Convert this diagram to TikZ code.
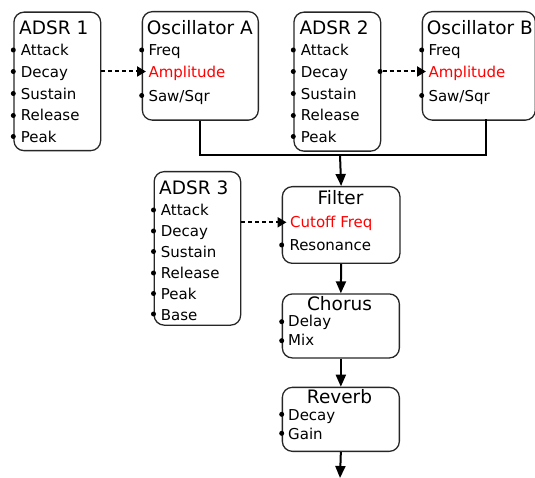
\documentclass[tikz,border=0pt]{standalone}
\usepackage{fontspec}
\setmainfont{DejaVu Sans}
\usetikzlibrary{arrows.meta}
\tikzset{
 box/.style={draw=black!85, line width=1.3pt, rounded corners=10pt, anchor=north west, inner sep=0pt},
 ttl/.style={font=\fontsize{18.5}{20}\selectfont, inner sep=0pt, anchor=base west},
 ttlc/.style={font=\fontsize{18.5}{20}\selectfont, inner sep=0pt, anchor=base},
 item/.style={font=\fontsize{15}{18}\selectfont, inner sep=0pt, anchor=base west},
 hot/.style={item, text=red},
 dot/.style={circle, fill=black, inner sep=0pt, minimum size=5pt},
 flow/.style={line width=2pt, -{Triangle[length=12pt,width=10pt]}},
 mod/.style={line width=2pt, dash pattern=on 4pt off 3pt, -{Triangle[length=9pt,width=10pt]}},
 bus/.style={line width=2pt},
}
\begin{document}
\begin{tikzpicture}[x=1pt,y=-1pt]
\useasboundingbox (0,0) rectangle (535,478);
% boxes
\node[box, minimum width=86.7pt, minimum height=138.5pt] (adsr1) at (13.3,11.5) {};
\node[box, minimum width=116pt, minimum height=108.5pt] (oscA) at (141.7,11) {};
\node[box, minimum width=86.7pt, minimum height=139pt] (adsr2) at (293.3,11.5) {};
\node[box, minimum width=113pt, minimum height=108.5pt] (oscB) at (421.7,11) {};
\node[box, minimum width=86.5pt, minimum height=153.5pt] (adsr3) at (153.5,171) {};
\node[box, minimum width=117.6pt, minimum height=76.7pt] (filter) at (281.7,186) {};
\node[box, minimum width=117pt, minimum height=64pt] (chorus) at (281.7,293.3) {};
\node[box, minimum width=117pt, minimum height=64pt] (reverb) at (281.7,386.7) {};
% ADSR 1
\node[ttl] (t1) at (19,35) {ADSR 1};
\node[item] (a1a) at (20.7,56) {Attack};
\node[item] (a1b) at (20.7,77.5) {Decay};
\node[item] (a1c) at (20.7,99.5) {Sustain};
\node[item] (a1d) at (20.7,121) {Release};
\node[item] (a1e) at (20.7,142.3) {Peak};
\node[dot] (d1a) at (13.3,50) {};
\node[dot] (d1b) at (13.3,71.5) {};
\node[dot] (d1c) at (13.3,93.5) {};
\node[dot] (d1d) at (13.3,115.5) {};
\node[dot] (d1e) at (13.3,136.5) {};
% Osc A
\node[ttl] (tA) at (146.7,34.5) {Oscillator A};
\node[item] (oAa) at (148.3,56) {Freq};
\node[hot] (oAb) at (148.3,78) {Amplitude};
\node[item] (oAc) at (148.3,101.5) {Saw/Sqr};
\node[dot] (dAa) at (141.7,50) {};
\node[dot] (dAc) at (141.7,95.5) {};
\coordinate (inA) at (146,71.5);
% ADSR 2
\node[ttl] (t2) at (299.3,35) {ADSR 2};
\node[item] (a2a) at (300.7,56) {Attack};
\node[item] (a2b) at (300.7,77.5) {Decay};
\node[item] (a2c) at (300.7,99.5) {Sustain};
\node[item] (a2d) at (300.7,121) {Release};
\node[item] (a2e) at (300.7,142.3) {Peak};
\node[dot] (d2a) at (293.3,50) {};
\node[dot] (d2b) at (293.3,71.5) {};
\node[dot] (d2c) at (293.3,93.5) {};
\node[dot] (d2d) at (293.3,115.5) {};
\node[dot] (d2e) at (293.3,136.5) {};
\node[dot] (d2r) at (380,71.5) {};
% Osc B
\node[ttl] (tB) at (426.7,34.5) {Oscillator B};
\node[item] (oBa) at (428.3,56) {Freq};
\node[hot] (oBb) at (428.3,78) {Amplitude};
\node[item] (oBc) at (428.3,101.5) {Saw/Sqr};
\node[dot] (dBa) at (421.7,50) {};
\node[dot] (dBc) at (421.7,95.5) {};
\coordinate (inB) at (426,71.5);
% ADSR 3
\node[ttl] (t3) at (159,194.3) {ADSR 3};
\node[item] (a3a) at (160.7,215.7) {Attack};
\node[item] (a3b) at (160.7,236.7) {Decay};
\node[item] (a3c) at (160.7,257.3) {Sustain};
\node[item] (a3d) at (160.7,278.3) {Release};
\node[item] (a3e) at (160.7,299.3) {Peak};
\node[item] (a3f) at (160.7,320) {Base};
\node[dot] (d3a) at (153.5,210) {};
\node[dot] (d3b) at (153.5,231) {};
\node[dot] (d3c) at (153.5,251.5) {};
\node[dot] (d3d) at (153.5,273) {};
\node[dot] (d3e) at (153.5,293.5) {};
\node[dot] (d3f) at (153.5,314) {};
% Filter
\node[ttlc] (tF) at (340.5,205) {Filter};
\node[hot] (fa) at (290,227.7) {Cutoff Freq};
\node[item] (fb) at (289.3,251) {Resonance};
\node[dot] (dFb) at (281.7,245) {};
\coordinate (inF) at (286.5,222.3);
% Chorus
\node[ttlc] (tC) at (339.5,310) {Chorus};
\node[item] (ca) at (288,326.7) {Delay};
\node[item] (cb) at (288,345.7) {Mix};
\node[dot] (dCa) at (281.7,321.7) {};
\node[dot] (dCb) at (281.7,340.7) {};
% Reverb
\node[ttlc] (tR) at (339.5,403.3) {Reverb};
\node[item] (ra) at (288,420) {Decay};
\node[item] (rb) at (288,439.3) {Gain};
\node[dot] (dRa) at (281.7,414.3) {};
\node[dot] (dRb) at (281.7,433.3) {};
% connectors
\coordinate (bus) at (340,155);
\coordinate (oBout) at (486,119.5);
\coordinate (out) at (340,478);
\draw[bus] (oscA.south) |- (bus) -| (oBout);
\draw[flow] (bus) -- (filter.north);
\draw[flow] (filter.south) -- (chorus.north);
\draw[flow] (chorus.south) -- (reverb.north);
\draw[flow] (reverb.south) -- (out);
\draw[mod] (adsr1.east |- d1b) -- (inA);
\draw[mod] (d2r) -- (inB);
\draw[mod] (adsr3.east |- inF) -- (inF);
\end{tikzpicture}
\end{document}
